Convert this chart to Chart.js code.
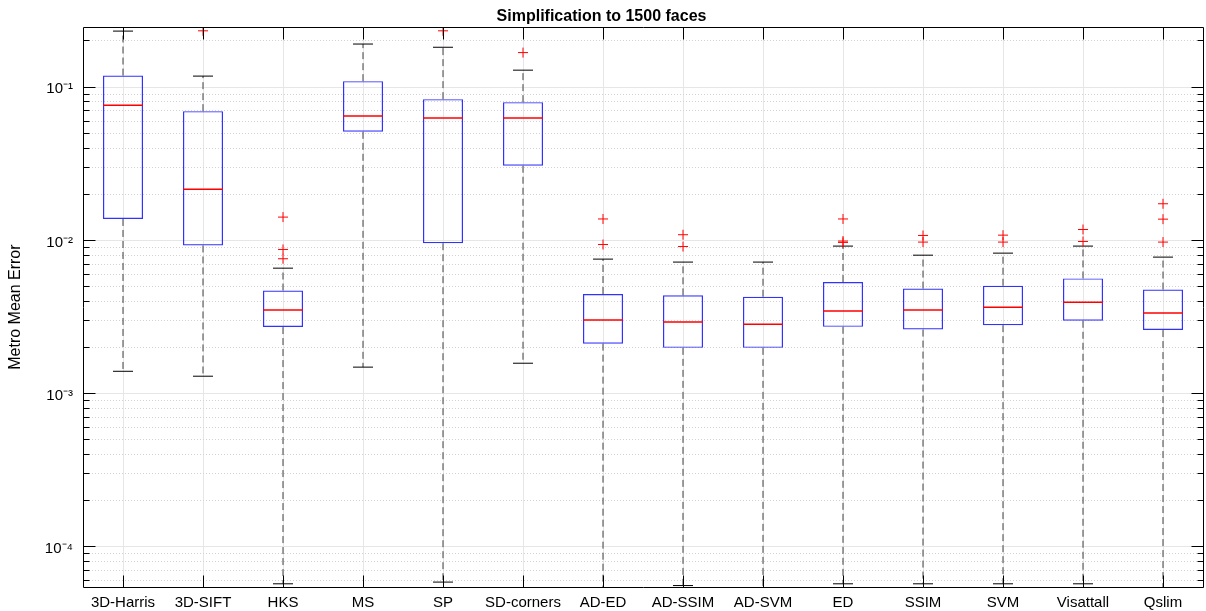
<!DOCTYPE html>
<html>
<head>
<meta charset="utf-8">
<script src="https://cdn.jsdelivr.net/npm/chart.js@4.4.0/dist/chart.umd.min.js"></script>
<style>
  html, body { margin: 0; padding: 0; background: #fff; }
  #wrap { width: 1206px; height: 611px; }
</style>
</head>
<body>
<div id="wrap"><canvas id="boxChart" width="1206" height="611"></canvas></div>
<script>
// box statistics
const categories = ['3D-Harris', '3D-SIFT', 'HKS', 'MS', 'SP', 'SD-corners', 'AD-ED',
  'AD-SSIM', 'AD-SVM', 'ED', 'SSIM', 'SVM', 'Visattall', 'Qslim'];

const lowerWhisker = [1.40e-3, 1.30e-3, 5.75e-5, 1.49e-3, 5.9e-5, 1.58e-3, 4.5e-5,
  5.6e-5, 4.5e-5, 5.75e-5, 5.75e-5, 5.75e-5, 5.75e-5, 4.5e-5];
const q1 = [0.0138, 9.27e-3, 2.72e-3, 0.0511, 9.59e-3, 0.0307, 2.12e-3,
  1.99e-3, 1.99e-3, 2.73e-3, 2.62e-3, 2.80e-3, 2.99e-3, 2.60e-3];
const median = [0.0763, 0.0216, 3.51e-3, 0.0648, 0.0628, 0.0628, 3.03e-3,
  2.93e-3, 2.84e-3, 3.46e-3, 3.51e-3, 3.67e-3, 3.95e-3, 3.36e-3];
const q3 = [0.119, 0.0697, 4.71e-3, 0.1094, 0.0835, 0.0798, 4.47e-3,
  4.38e-3, 4.29e-3, 5.35e-3, 4.85e-3, 5.06e-3, 5.65e-3, 4.78e-3];
const upperWhisker = [0.232, 0.118, 6.59e-3, 0.191, 0.182, 0.129, 7.55e-3,
  7.22e-3, 7.22e-3, 9.18e-3, 8.01e-3, 8.26e-3, 9.18e-3, 7.78e-3];
const outliers = [
  [], [0.233], [0.01419, 8.73e-3, 7.59e-3], [], [0.233], [0.168], [0.0138, 9.40e-3],
  [0.01089, 9.12e-3], [], [0.0138, 9.9e-3, 9.7e-3], [0.01077, 9.75e-3],
  [0.01082, 9.75e-3], [0.01178, 9.84e-3], [0.01734, 0.01376, 9.75e-3]
];

// y axis (log)
const yMin = 5.48e-5;
const yMax = 0.246;
const yMajorTicks = [1e-4, 1e-3, 1e-2, 1e-1];
const yTickLabels = ['10\u207B\u2074', '10\u207B\u00B3', '10\u207B\u00B2', '10\u207B\u00B9'];

const yMinorTicks = [];
[1e-5, 1e-4, 1e-3, 1e-2, 1e-1].forEach(d => {
  for (let m = 2; m <= 9; m++) {
    const v = m * d;
    if (v > yMin && v < yMax) yMinorTicks.push(v);
  }
});

const FONT = "'Liberation Sans', Arial, sans-serif";

// dashed whisker segments, broken with nulls
const whiskerPoints = [];
categories.forEach((cat, i) => {
  whiskerPoints.push({x: cat, y: q3[i]}, {x: cat, y: upperWhisker[i]}, {x: cat, y: null});
  whiskerPoints.push({x: cat, y: q1[i]}, {x: cat, y: lowerWhisker[i]}, {x: cat, y: null});
});

const outlierPoints = [];
outliers.forEach((vals, i) => {
  vals.forEach(v => outlierPoints.push({x: categories[i], y: v}));
});

const align = p => Math.round(p - 0.5) + 0.5;

// black frame + inward tick marks like the matlab axes
const axisFrame = {
  id: 'axisFrame',
  afterDraw(chart) {
    const {ctx, chartArea: a, scales} = chart;
    const left = align(a.left), right = align(a.right);
    const top = align(a.top), bottom = align(a.bottom);
    ctx.save();
    ctx.strokeStyle = '#000';
    ctx.lineWidth = 1;
    ctx.beginPath();
    ctx.rect(left, top, right - left, bottom - top);
    categories.forEach((c, i) => {
      const x = align(scales.x.getPixelForValue(i));
      ctx.moveTo(x, bottom); ctx.lineTo(x, bottom - 12);
      ctx.moveTo(x, top); ctx.lineTo(x, top + 12);
    });
    yMajorTicks.forEach(v => {
      const y = align(scales.y.getPixelForValue(v));
      ctx.moveTo(left, y); ctx.lineTo(left + 12, y);
      ctx.moveTo(right, y); ctx.lineTo(right - 12, y);
    });
    yMinorTicks.forEach(v => {
      const y = align(scales.y.getPixelForValue(v));
      ctx.moveTo(left, y); ctx.lineTo(left + 6, y);
      ctx.moveTo(right, y); ctx.lineTo(right - 6, y);
    });
    ctx.stroke();
    ctx.restore();
  }
};

const ctx = document.getElementById('boxChart').getContext('2d');
new Chart(ctx, {
  type: 'bar',
  data: {
    labels: categories,
    datasets: [
      {
        type: 'line',
        label: 'outliers',
        data: outlierPoints,
        showLine: false,
        pointStyle: 'cross',
        pointRadius: 5,
        pointHoverRadius: 5,
        pointBorderColor: '#ff0000',
        pointBorderWidth: 1,
        clip: 0,
        order: 0
      },
      {
        type: 'line',
        label: 'median',
        data: median,
        showLine: false,
        pointStyle: 'line',
        pointRadius: 20,
        pointHoverRadius: 20,
        pointBorderColor: '#ff0000',
        pointBorderWidth: 1.5,
        clip: 0,
        order: 1
      },
      {
        type: 'line',
        label: 'upper cap',
        data: upperWhisker,
        showLine: false,
        pointStyle: 'line',
        pointRadius: 10,
        pointHoverRadius: 10,
        pointBorderColor: '#000',
        pointBorderWidth: 1,
        clip: 0,
        order: 2
      },
      {
        type: 'line',
        label: 'lower cap',
        data: lowerWhisker,
        showLine: false,
        pointStyle: 'line',
        pointRadius: 10,
        pointHoverRadius: 10,
        pointBorderColor: '#000',
        pointBorderWidth: 1,
        clip: 0,
        order: 2
      },
      {
        label: 'box',
        data: categories.map((c, i) => [q1[i], q3[i]]),
        backgroundColor: 'rgba(0,0,0,0)',
        borderColor: 'rgb(50,50,255)',
        borderWidth: 1.2,
        borderSkipped: false,
        categoryPercentage: 1,
        barPercentage: 0.5,
        order: 3
      },
      {
        type: 'line',
        label: 'whiskers',
        data: whiskerPoints,
        borderColor: '#404040',
        borderWidth: 1,
        borderDash: [7, 4],
        pointRadius: 0,
        spanGaps: false,
        clip: 0,
        order: 4
      }
    ]
  },
  options: {
    responsive: false,
    animation: false,
    events: [],
    layout: { autoPadding: false, padding: { left: 0, right: 3, top: 0, bottom: 0 } },
    plugins: {
      legend: { display: false },
      tooltip: { enabled: false },
      title: {
        display: true,
        text: 'Simplification to 1500 faces',
        color: '#000',
        font: { family: FONT, size: 16, weight: 'bold' },
        padding: { top: 7, bottom: 1 }
      }
    },
    scales: {
      x: {
        offset: true,
        grid: { offset: false, color: '#e6e6e6', lineWidth: 1, drawTicks: false },
        border: { display: false },
        ticks: { color: '#000', font: { family: FONT, size: 15 }, padding: 7, autoSkip: false, maxRotation: 0 },
        afterFit: s => { s.height = 24; s.paddingLeft = 0; s.paddingRight = 0; }
      },
      y: {
        type: 'logarithmic',
        position: 'left',
        min: yMin,
        max: yMax,
        afterBuildTicks: s => { s.ticks = yMajorTicks.map(v => ({ value: v, major: true })); },
        afterFit: s => { s.width = 83; s.paddingTop = 0; s.paddingBottom = 0; },
        grid: { color: '#e6e6e6', lineWidth: 1, drawTicks: false },
        border: { display: false },
        ticks: {
          color: '#000',
          font: { family: FONT, size: 15 },
          padding: 10,
          labelOffset: 2,
          autoSkip: false,
          callback: v => {
            const k = yMajorTicks.indexOf(v);
            return k >= 0 ? yTickLabels[k] : '';
          }
        },
        title: {
          display: true,
          text: 'Metro Mean Error',
          color: '#000',
          font: { family: FONT, size: 16 },
          padding: { top: 6, bottom: 0 }
        }
      },
      yMinor: {
        type: 'logarithmic',
        position: 'right',
        min: yMin,
        max: yMax,
        afterBuildTicks: s => { s.ticks = yMinorTicks.map(v => ({ value: v })); },
        afterFit: s => { s.width = 0; s.paddingTop = 0; s.paddingBottom = 0; },
        grid: { color: '#d2d2d2', lineWidth: 1, drawTicks: false },
        border: { display: false, dash: [1, 2] },
        ticks: { display: false }
      }
    }
  },
  plugins: [axisFrame]
});
</script>
</body>
</html>
